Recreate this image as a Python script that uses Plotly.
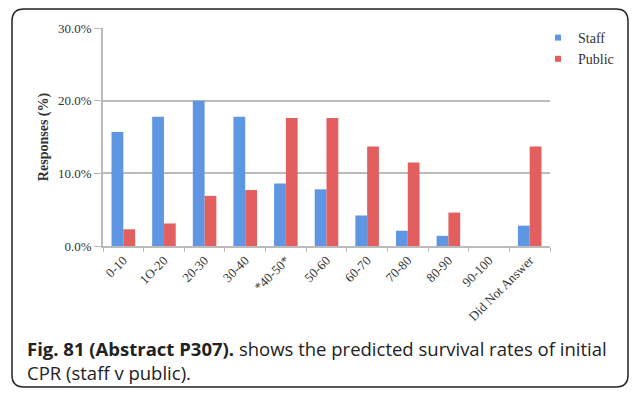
import plotly.graph_objects as go

# Predicted survival rate bands
categories = ["0-10", "1O-20", "20-30", "30-40", "*40-50*", "50-60", "60-70",
              "70-80", "80-90", "90-100", "Did Not Answer"]
staff = [15.7, 17.8, 20.0, 17.8, 8.6, 7.8, 4.2, 2.1, 1.4, 0.0, 2.8]
public = [2.3, 3.1, 6.9, 7.7, 17.6, 17.6, 13.7, 11.5, 4.6, 0.0, 13.7]
y_ticks = [0, 10, 20, 30]
y_tick_labels = ["0.0%", "10.0%", "20.0%", "30.0%"]

# page body has an 8px margin: keep the whole page inside the window
OFF = 8
W, H = 637 - 2 * OFF, 396 - 2 * OFF
L, T = 103 - OFF, 28 - OFF
R = (OFF + W) - 550
B = (OFF + H) - 246
pw, ph = W - L - R, H - T - B


def px_x(x):
    return (x - OFF - L) / pw


def px_y(y):
    return (H - B - (y - OFF)) / ph


serif = "Liberation Serif"
blue, red = "#5e96e4", "#e35f5f"

fig = go.Figure()
fig.add_trace(go.Bar(x=categories, y=staff, name="Staff", showlegend=False,
                     marker=dict(color=blue, line=dict(width=0))))
fig.add_trace(go.Bar(x=categories, y=public, name="Public", showlegend=False,
                     marker=dict(color=red, line=dict(width=0))))
# small square legend keys
for name, col in (("Staff", blue), ("Public", red)):
    fig.add_trace(go.Scatter(x=[None], y=[None], mode="markers", name=name,
                             marker=dict(symbol="square", size=6, color=col)))

# rounded border around figure + caption
x0, x1, y0, y1, r = 12, 628, 9, 387, 12
path = (f"M {px_x(x0 + r)} {px_y(y0)} L {px_x(x1 - r)} {px_y(y0)} "
        f"Q {px_x(x1)} {px_y(y0)} {px_x(x1)} {px_y(y0 + r)} "
        f"L {px_x(x1)} {px_y(y1 - r)} Q {px_x(x1)} {px_y(y1)} {px_x(x1 - r)} {px_y(y1)} "
        f"L {px_x(x0 + r)} {px_y(y1)} Q {px_x(x0)} {px_y(y1)} {px_x(x0)} {px_y(y1 - r)} "
        f"L {px_x(x0)} {px_y(y0 + r)} Q {px_x(x0)} {px_y(y0)} {px_x(x0 + r)} {px_y(y0)} Z")
fig.add_shape(type="path", path=path, xref="paper", yref="paper",
              line=dict(color="#222", width=1.5), layer="above")

fig.add_annotation(
    text="<b>Fig. 81 (Abstract P307).</b> shows the predicted survival rates of initial<br>CPR (staff v public).",
    xref="paper", yref="paper", x=px_x(25), y=px_y(334), xanchor="left", yanchor="top",
    align="left", showarrow=False, font=dict(family="Open Sans", size=18.5, color="#222"))

fig.update_layout(
    width=W, height=H,
    margin=dict(l=L, r=R, t=T, b=B, autoexpand=False),
    paper_bgcolor="white", plot_bgcolor="white",
    barmode="group", bargap=0.42, bargroupgap=0,
    showlegend=True,
    legend=dict(x=px_x(538), y=px_y(22), xanchor="left", yanchor="top",
                font=dict(family=serif, size=14, color="#333"),
                itemwidth=30, tracegroupgap=10, bgcolor="rgba(0,0,0,0)"),
    xaxis=dict(tickangle=-45, tickfont=dict(family=serif, size=13, color="#333"),
               showline=True, linecolor="#bbb", linewidth=1.5, automargin=False,
               ticks="outside", tickson="boundaries", ticklen=4, tickcolor="#bbb"),
    yaxis=dict(range=[0, 30], tickvals=y_ticks, ticktext=y_tick_labels,
               tickfont=dict(family=serif, size=13, color="#333"),
               showgrid=True, gridcolor="#bbb", gridwidth=1.5, automargin=False,
               showline=True, linecolor="#bbb", linewidth=1.5,
               ticks="outside", ticklen=7, tickcolor="#bbb",
               title=dict(text="<b>Responses (%)</b>", font=dict(family=serif, size=14, color="#333"),
                          standoff=6)),
)

fig.write_html("out.html")
